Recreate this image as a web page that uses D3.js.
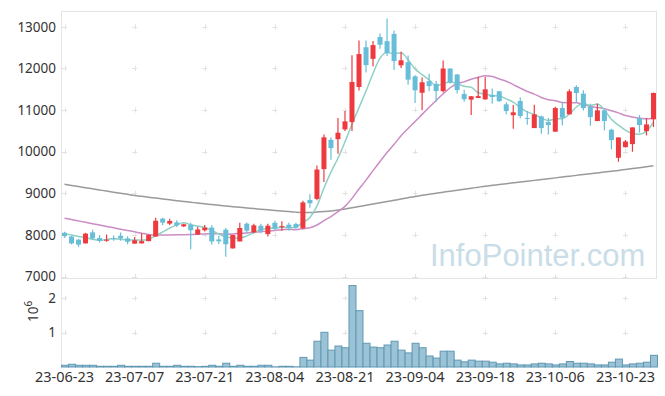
<!DOCTYPE html>
<html>
<head>
<meta charset="utf-8">
<script src="https://cdn.jsdelivr.net/npm/d3@7"></script>
<style>
  body { margin: 0; background: #fff; }
  svg { display: block; font-family: "Noto Sans", sans-serif; }
</style>
</head>
<body>
<svg></svg>
<script>
// trading days (yy-mm-dd)
const dates = [
  '23-06-23','23-06-26','23-06-27','23-06-28','23-06-29','23-06-30','23-07-03','23-07-04','23-07-05','23-07-06',
  '23-07-07','23-07-10','23-07-11','23-07-12','23-07-13','23-07-14','23-07-17','23-07-18','23-07-19','23-07-20',
  '23-07-21','23-07-24','23-07-25','23-07-26','23-07-27','23-07-28','23-07-31','23-08-01','23-08-02','23-08-03',
  '23-08-04','23-08-07','23-08-08','23-08-09','23-08-10','23-08-11','23-08-14','23-08-16','23-08-17','23-08-18',
  '23-08-21','23-08-22','23-08-23','23-08-24','23-08-25','23-08-28','23-08-29','23-08-30','23-08-31','23-09-01',
  '23-09-04','23-09-05','23-09-06','23-09-07','23-09-08','23-09-11','23-09-12','23-09-13','23-09-14','23-09-15',
  '23-09-18','23-09-19','23-09-20','23-09-21','23-09-22','23-09-25','23-09-26','23-09-27','23-10-04','23-10-05',
  '23-10-06','23-10-10','23-10-11','23-10-12','23-10-13','23-10-16','23-10-17','23-10-18','23-10-19','23-10-20',
  '23-10-23','23-10-24','23-10-25','23-10-26','23-10-27'
];

const open = [
  8050,7960,7885,7795,8060,7925,7860,7920,7980,7915,
  7790,7795,7850,7960,8390,8270,8300,8205,8245,8010,
  8110,8175,7890,8125,7675,7843,8270,8060,8220,8020,
  8290,8185,8245,8260,8160,8840,8865,9580,10285,10300,
  10535,10711,11554,12510,12230,12755,12655,12830,12075,12150,
  11810,11415,11695,11630,11455,11998,11855,11385,11250,11290,
  11257,11360,11450,11137,10877,11217,10810,10566,10848,10711,
  10480,11048,10896,11554,11394,11073,10735,10993,10527,9853,
  10108,10181,10807,10494,10776
];
const high = [
  8075,7980,7900,8050,8125,7995,8010,7990,8060,7970,
  7950,8040,8010,8410,8410,8390,8350,8270,8290,8195,
  8240,8230,7980,8165,8000,8290,8295,8270,8270,8270,
  8340,8325,8290,8290,8820,8975,9670,10410,10340,10810,
  10975,12318,12670,12670,12660,12840,13200,12910,12400,12310,
  11834,11780,11870,11700,12190,11998,11860,11490,11337,11800,
  11795,11520,11460,11185,11120,11300,10976,11130,10860,10807,
  11080,11193,11500,11595,11475,11150,11154,11010,10550,10342,
  10280,10583,10880,10807,11420
];
const low = [
  7930,7770,7705,7795,7885,7815,7835,7860,7860,7775,
  7790,7795,7850,7950,8230,8240,8190,8190,7655,8000,
  8080,7770,7780,7475,7675,7843,8040,8040,8040,7960,
  8110,8100,8100,8150,8150,8655,8830,9270,9805,9950,
  10495,10495,11470,11900,12050,12470,12300,11960,12010,11610,
  11170,10993,11450,11200,11420,11640,11400,11200,10880,11290,
  11250,11150,11200,10900,10550,10800,10648,10566,10430,10414,
  10480,10631,10896,11193,10990,10620,10735,10510,10053,9757,
  10100,9997,10460,10390,10590
];
const close = [
  7970,7795,7765,8030,7915,7855,7885,7895,7915,7835,
  7870,7850,8000,8340,8295,8335,8230,8255,8110,8130,
  8175,7843,7845,7775,8000,8166,8100,8230,8095,8220,
  8150,8210,8173,8175,8780,8760,9571,10345,10085,10455,
  10728,11675,12345,12080,12560,12570,12370,12177,12195,11730,
  11475,11667,11575,11458,11998,11665,11480,11260,11330,11335,
  11498,11313,11212,10976,10945,10855,10790,10896,10566,10639,
  11048,10817,11450,11410,11048,10831,10993,10735,10277,10342,
  10245,10583,10639,10655,11410
];
const volume = [
  50000,80000,50000,50000,50000,20000,20000,20000,50000,20000,
  20000,20000,20000,110000,20000,20000,50000,20000,20000,10000,
  20000,50000,20000,110000,20000,50000,20000,20000,50000,50000,
  5000,20000,20000,5000,280000,200000,750000,1010000,490000,610000,
  560000,2370000,1640000,690000,580000,560000,640000,750000,490000,410000,
  690000,560000,320000,260000,460000,460000,200000,150000,200000,170000,
  170000,140000,90000,110000,90000,60000,60000,90000,110000,90000,
  60000,90000,160000,110000,110000,90000,60000,60000,140000,230000,
  60000,90000,110000,140000,340000
];

// moving averages as drawn (5, 20, 120 days)
const ma5 = [
  8030,7995,7960,7935,7895,7872,7890,7916,7893,7877,
  7880,7873,7894,7979,8071,8164,8240,8291,8245,8212,
  8180,8103,8021,7954,7928,7926,7977,8054,8118,8162,
  8159,8181,8170,8186,8298,8420,8692,9126,9508,9843,
  10237,10658,11058,11457,11878,12246,12385,12351,12374,12208,
  11989,11849,11728,11581,11635,11673,11635,11572,11547,11414,
  11381,11347,11338,11267,11189,11060,10956,10892,10810,10749,
  10788,10793,10904,11073,11155,11111,11146,11003,10777,10636,
  10518,10436,10417,10493,10706
];
const ma20 = [
  8400,8368,8335,8302,8270,8237,8204,8171,8138,8105,
  8073,8040,8010,7995,7995,7998,8002,8006,8010,8014,
  8024,8026,8030,8018,8022,8037,8048,8065,8074,8093,
  8107,8125,8134,8126,8150,8171,8238,8343,8441,8558,
  8685,8877,9102,9317,9545,9765,9979,10176,10381,10557,
  10723,10896,11066,11230,11391,11536,11632,11677,11740,11784,
  11822,11804,11747,11692,11611,11526,11447,11383,11301,11247,
  11225,11183,11177,11174,11127,11085,11061,11034,10982,10932,
  10869,10833,10804,10788,10811
];
const ma120 = [
  9215,9188,9160,9133,9106,9079,9052,9026,9000,8974,
  8948,8926,8905,8884,8863,8843,8823,8803,8784,8765,
  8746,8729,8712,8695,8679,8663,8647,8632,8617,8602,
  8588,8574,8560,8547,8540,8540,8548,8560,8575,8598,
  8623,8650,8680,8710,8740,8770,8800,8830,8860,8893,
  8925,8950,8975,9000,9025,9050,9073,9097,9120,9145,
  9170,9190,9210,9230,9250,9270,9290,9310,9330,9350,
  9370,9390,9410,9430,9450,9470,9490,9510,9530,9550,
  9572,9594,9616,9638,9660
];

const priceTicks = [7000, 8000, 9000, 10000, 11000, 12000, 13000];
const volTicks = [1e6, 2e6];
const dateTicks = ['23-06-23','23-07-07','23-07-21','23-08-04','23-08-21','23-09-04','23-09-18','23-10-06','23-10-23'];

const width = 665;
const height = 396;
const left = 61, right = 657;
const priceTop = 11, priceBottom = 278;
const volTop = 278, volBottom = 367;

const upColor = '#ee3a3f';
const downColor = '#68bed8';

const svg = d3.select('svg')
    .attr('width', width)
    .attr('height', height);

const x = d3.scaleBand()
    .domain(dates)
    .range([left, right])
    .padding(0);
const cx = d => x(d) + x.bandwidth() / 2;

const y = d3.scaleLinear()
    .domain([6964, 13380])
    .range([priceBottom, priceTop]);

const yVol = d3.scaleLinear()
    .domain([0, 2.59e6])
    .range([volBottom, volTop]);

const rows = dates.map((d, i) => ({
    date: d, o: open[i], h: high[i], l: low[i], c: close[i],
    v: volume[i], m5: ma5[i], m20: ma20[i], m120: ma120[i]
}));

// watermark
svg.append('text')
    .attr('x', 430)
    .attr('y', 266)
    .style('font-family', '"Liberation Sans", Arial, sans-serif')
    .style('font-size', '31px')
    .style('fill', '#c9dde8')
    .text('InfoPointer.com');

// frame
const frame = svg.append('g').attr('stroke', '#e4e4e4').attr('fill', 'none');
frame.append('line').attr('x1', left).attr('x2', right).attr('y1', priceTop + 0.5).attr('y2', priceTop + 0.5);
frame.append('line').attr('x1', left).attr('x2', right).attr('y1', priceBottom + 0.5).attr('y2', priceBottom + 0.5);
frame.append('line').attr('x1', left + 0.5).attr('x2', left + 0.5).attr('y1', priceTop).attr('y2', volBottom);
frame.append('line').attr('x1', right - 0.5).attr('x2', right - 0.5).attr('y1', priceTop).attr('y2', priceBottom);

// "+" grid marks
const crossY = priceTicks.map(v => y(v)).concat(volTicks.map(v => yVol(v)));
const crossX = dateTicks.map(d => cx(d));
const crosses = svg.append('g').attr('stroke', '#e2e2e2');
crossX.forEach(px => {
    crossY.forEach(py => {
        crosses.append('line').attr('x1', px - 2.5).attr('x2', px + 2.5)
            .attr('y1', Math.round(py) + 0.5).attr('y2', Math.round(py) + 0.5);
        crosses.append('line').attr('x1', Math.round(px) + 0.5).attr('x2', Math.round(px) + 0.5)
            .attr('y1', py - 2.5).attr('y2', py + 2.5);
    });
});

// moving average lines
const maLine = key => d3.line()
    .x(d => cx(d.date))
    .y(d => y(d[key]))
    .curve(d3.curveMonotoneX);

svg.append('path').datum(rows)
    .attr('d', maLine('m120'))
    .attr('fill', 'none').attr('stroke', '#9a9a9a').attr('stroke-width', 1.5);
svg.append('path').datum(rows)
    .attr('d', maLine('m20'))
    .attr('fill', 'none').attr('stroke', '#cc8cc4').attr('stroke-width', 1.5);
svg.append('path').datum(rows)
    .attr('d', maLine('m5'))
    .attr('fill', 'none').attr('stroke', '#8fd0c4').attr('stroke-width', 1.5);

// candles
const bodyW = 5;
const candles = svg.append('g').selectAll('g')
    .data(rows)
    .enter().append('g')
    .attr('fill', d => d.c >= d.o ? upColor : downColor)
    .attr('stroke', d => d.c >= d.o ? upColor : downColor);

candles.append('line')
    .attr('x1', d => cx(d.date)).attr('x2', d => cx(d.date))
    .attr('y1', d => y(d.h)).attr('y2', d => y(d.l))
    .attr('stroke-width', 1.2);

candles.append('rect')
    .attr('x', d => cx(d.date) - bodyW / 2)
    .attr('width', bodyW)
    .attr('y', d => y(Math.max(d.o, d.c)))
    .attr('height', d => Math.max(1, Math.abs(y(d.o) - y(d.c))))
    .attr('stroke', 'none');

// volume bars
svg.append('g').selectAll('rect')
    .data(rows)
    .enter().append('rect')
    .attr('x', d => x(d.date) + 0.5)
    .attr('width', x.bandwidth())
    .attr('y', d => yVol(d.v))
    .attr('height', d => yVol(0) - yVol(d.v))
    .attr('fill', '#9cc3d5')
    .attr('stroke', '#5f98b4')
    .attr('stroke-width', 1);

// axes
const yAxis = svg.append('g')
    .attr('transform', `translate(${left - 5},0)`)
    .call(d3.axisLeft(y).tickValues(priceTicks).tickSize(0).tickPadding(0).tickFormat(d3.format('d')));
const volAxis = svg.append('g')
    .attr('transform', `translate(${left - 5},0)`)
    .call(d3.axisLeft(yVol).tickValues(volTicks).tickSize(0).tickPadding(0).tickFormat(d => d / 1e6));
const xAxis = svg.append('g')
    .attr('transform', `translate(0,${volBottom})`)
    .call(d3.axisBottom(x).tickValues(dateTicks).tickSize(0).tickPadding(5));

[yAxis, volAxis].forEach(g => {
    g.select('.domain').remove();
    g.selectAll('text')
        .style('font-family', '"Noto Sans", sans-serif')
        .style('font-size', '13.5px')
        .style('fill', '#333');
});
xAxis.select('.domain').remove();
xAxis.selectAll('text')
    .style('font-family', '"Noto Sans", sans-serif')
    .style('font-size', '14.5px')
    .style('fill', '#333');

// 10^6 unit label
const unit = svg.append('text')
    .attr('transform', 'translate(38,322) rotate(-90)')
    .style('font-size', '13.5px')
    .style('fill', '#333');
unit.append('tspan').text('10');
unit.append('tspan').attr('dy', -6).style('font-size', '10px').text('6');
</script>
</body>
</html>
